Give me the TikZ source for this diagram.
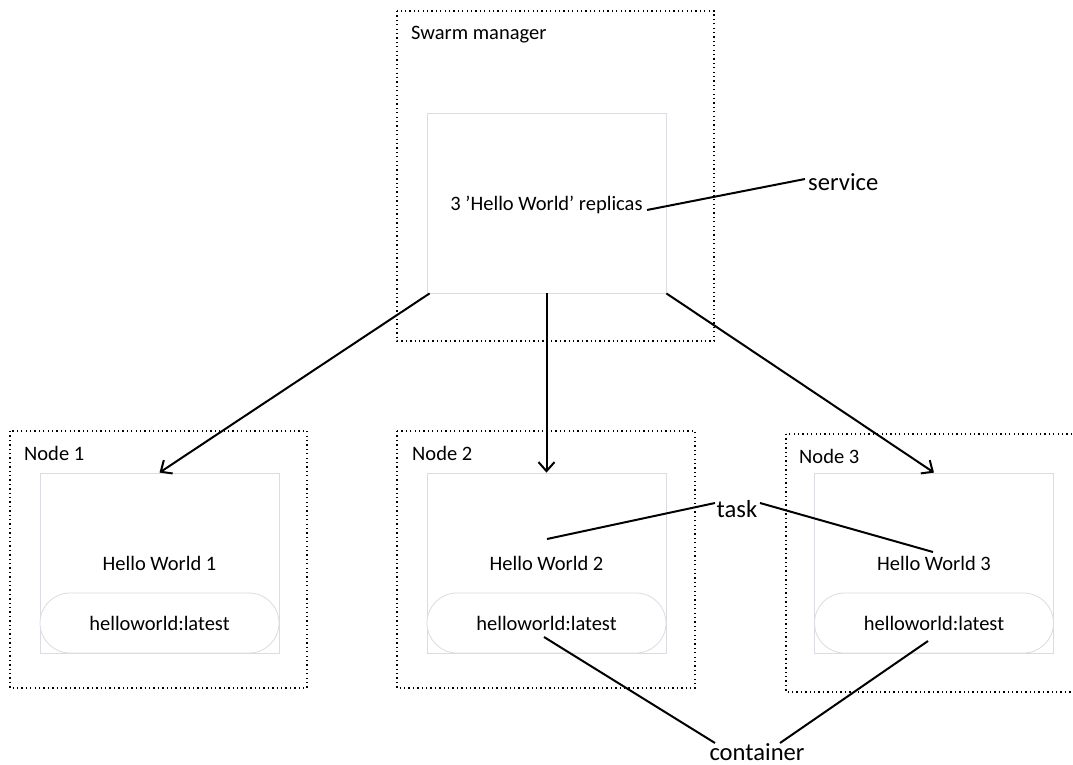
\documentclass[tikz,border=0pt]{standalone}
\usepackage{fontspec}
\setmainfont{Carlito}
\usetikzlibrary{arrows.meta}
\definecolor{boxedge}{HTML}{D9DCE2}
\tikzset{
  group/.style={draw=black, line width=1.3pt, dash pattern=on 1.3pt off 3.1pt},
  hostbox/.style={draw=boxedge, line width=0.8pt, fill=white, minimum width=239pt, minimum height=180pt, inner sep=0pt},
  imagepill/.style={draw=boxedge, line width=0.8pt, fill=white, rounded corners=30pt, minimum width=239pt, minimum height=60pt, inner sep=0pt},
  small/.style={font=\fontsize{20.5}{24}\selectfont, inner sep=0pt},
  big/.style={font=\fontsize{24.6}{29}\selectfont, inner sep=0pt},
  link/.style={draw=black, line width=2pt},
  arr/.style={link, -{Straight Barb[length=9pt,width=16pt,line width=2pt]}}
}
\begin{document}
\begin{tikzpicture}[x=1pt,y=-1pt]
\useasboundingbox (0,0) rectangle (1073,765);
\clip (0,0) rectangle (1073,765);

% dotted group frames
\draw[group] (397,11) rectangle (714,341);
\draw[group] (10,431) rectangle (307,688);
\draw[group] (397,431) rectangle (695,688);
\draw[group] (786,434) rectangle (1100,692);

% frame titles
\node[small, anchor=base west] (tman) at (411,40) {Swarm manager};
\node[small, anchor=base west] (tn1) at (24,460) {Node 1};
\node[small, anchor=base west] (tn2) at (412,460) {Node 2};
\node[small, anchor=base west] (tn3) at (799,463) {Node 3};

% manager service box
\node[hostbox] (mgr) at (546.5,203) {};
\node[small, anchor=base] (rep) at (546.5,210) {3 ’Hello World’ replicas};

% worker boxes
\node[hostbox] (h1) at (159.5,563) {};
\node[hostbox] (h2) at (546.5,563) {};
\node[hostbox] (h3) at (934,563) {};

\node[imagepill] (p1) at (159.5,623) {};
\node[imagepill] (p2) at (546.5,623) {};
\node[imagepill] (p3) at (934,623) {};

\node[small, anchor=base] (w1) at (159.5,570) {Hello World 1};
\node[small, anchor=base] (w2) at (546.5,570) {Hello World 2};
\node[small, anchor=base] (w3) at (934,570) {Hello World 3};

\node[small, anchor=base] (i1) at (159.5,630) {helloworld:latest};
\node[small, anchor=base] (i2) at (546.5,630) {helloworld:latest};
\node[small, anchor=base] (i3) at (934,630) {helloworld:latest};

% callout labels
\node[big, anchor=base west] (svc) at (808,190) {service};
\node[big, anchor=base] (task) at (737,517) {task};
\node[big, anchor=base] (ctr) at (757,760) {container};

% scheduling arrows
\draw[arr] (mgr.south west) ++(3,0) -- (h1.north);
\draw[arr] (mgr.south) -- (h2.north);
\draw[arr] (mgr.south east) -- (h3.north);

% callout leaders
\coordinate (svcA) at (647,210);
\coordinate (svcB) at (805,179);
\draw[link] (svcA) -- (svcB);

\coordinate (tkL) at (715,503);
\coordinate (tkR) at (760,503);
\coordinate (tk2) at (547,539);
\coordinate (tk3) at (933,552);
\draw[link] (tk2) -- (tkL);
\draw[link] (tkR) -- (tk3);

\coordinate (ctL) at (715,743);
\coordinate (ctR) at (780,743);
\coordinate (ct2) at (544,637);
\coordinate (ct3) at (928,641);
\draw[link] (ct2) -- (ctL);
\draw[link] (ct3) -- (ctR);
\end{tikzpicture}
\end{document}
